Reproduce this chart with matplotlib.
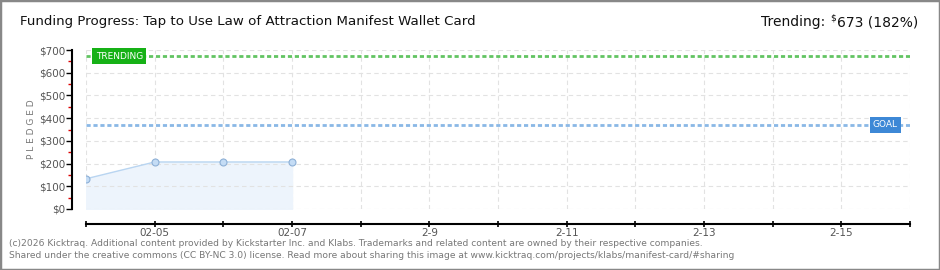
import matplotlib.pyplot as plt
from matplotlib.patches import Rectangle

# data
days = [0, 1, 2, 3]  # days after 02-04
pledged = [133, 207, 207, 207]
goal = 370
trending = 673
tick_pos = [1, 3, 5, 7, 9, 11]
tick_labels = ["02-05", "02-07", "2-9", "2-11", "2-13", "2-15"]
y_ticks = [0, 100, 200, 300, 400, 500, 600, 700]

plt.rcParams["font.family"] = ["DejaVu Sans"]

W, H = 940, 270
fig = plt.figure(figsize=(W / 100, H / 100), dpi=100)
fig.patch.set_facecolor("white")
fig.add_artist(Rectangle((0, 0), 1, 1, transform=fig.transFigure, fill=False,
                         edgecolor="#888888", lw=2.5))

ax = fig.add_axes([86 / W, 1 - 209 / H, (910 - 86) / W, (209 - 50) / H])
ax.set_xlim(0, 12)
ax.set_ylim(0, 700)

ax.fill_between(days, pledged, 0, color="#edf4fc", zorder=1)
ax.plot(days, pledged, color="#b9d5f1", lw=1, zorder=2)
ax.plot(days, pledged, "o", ms=5, mfc="#c4dcf5", mec="#8eb0d6", mew=0.8, zorder=3)

ax.axhline(trending, color="#62c462", lw=2, ls=(0, (1.5, 1)), zorder=2)
ax.axhline(goal, color="#8ab8e6", lw=2, ls=(0, (1.5, 1)), zorder=2)

ax.text(0.14, trending, "TRENDING", color="white", fontsize=6.5, va="center", ha="left",
        zorder=5, bbox=dict(boxstyle="square,pad=0.35", fc="#16b116", ec="none"))
ax.text(11.46, goal, "GOAL", color="white", fontsize=6.5, va="center", ha="left",
        zorder=5, bbox=dict(boxstyle="square,pad=0.35", fc="#3d88d6", ec="none"))

ax.set_yticks(y_ticks)
ax.set_yticklabels([f"${v}" for v in y_ticks])
ax.set_yticks([50, 150, 250, 350, 450, 550, 650], minor=True)
ax.tick_params(axis="y", which="major", length=4, color="black", width=1, pad=1,
               labelsize=7.5, labelcolor="#555555")
ax.tick_params(axis="y", which="minor", length=3, color="#dd0000", width=1)

ax.set_xticks(tick_pos)
ax.set_xticklabels(tick_labels)
ax.set_xticks(range(13), minor=True)
ax.tick_params(axis="x", which="both", direction="inout", length=5, color="black", width=1.2,
               pad=0, labelsize=7.5, labelcolor="#555555")

ax.grid(True, which="major", axis="y", color="#e2e2e2", ls=(0, (4, 3)), lw=0.8)
for d in range(13):
    ax.axvline(d, color="#e2e2e2", ls=(0, (4, 3)), lw=0.8, zorder=0)

for s in ["top", "right"]:
    ax.spines[s].set_visible(False)
ax.spines["left"].set_position(("outward", 10))
ax.spines["bottom"].set_position(("outward", 11))
ax.spines["left"].set_linewidth(1.5)
ax.spines["bottom"].set_linewidth(1.5)

ax.set_ylabel("P L E D G E D", fontsize=6.5, color="#777777")
ax.yaxis.set_label_coords(-50 / 824, 0.5)

fig.text(20 / W, 1 - 22 / H, "Funding Progress: Tap to Use Law of Attraction Manifest Wallet Card",
         fontsize=9.6, color="#111111", va="center", ha="left")

r = fig.canvas.get_renderer()
t1 = fig.text(918 / W, 1 - 22 / H, "673 (182%)", fontsize=10, color="#111111",
              va="center", ha="right")
x1 = t1.get_window_extent(r).x0
t2 = fig.text((x1 - 0.5) / W, 1 - 18 / H, "$", fontsize=6.5, color="#111111",
              va="center", ha="right")
x2 = t2.get_window_extent(r).x0
fig.text((x2 - 5) / W, 1 - 22 / H, "Trending:", fontsize=10, color="#111111",
         va="center", ha="right")

fig.text(9 / W, 1 - 243 / H,
         "(c)2026 Kicktraq. Additional content provided by Kickstarter Inc. and Klabs. Trademarks and related content are owned by their respective companies.",
         fontsize=6.6, color="#777777", va="center", ha="left")
fig.text(9 / W, 1 - 256 / H,
         "Shared under the creative commons (CC BY-NC 3.0) license. Read more about sharing this image at www.kicktraq.com/projects/klabs/manifest-card/#sharing",
         fontsize=6.6, color="#777777", va="center", ha="left")

fig.savefig("out.png", dpi=100, facecolor="white")
